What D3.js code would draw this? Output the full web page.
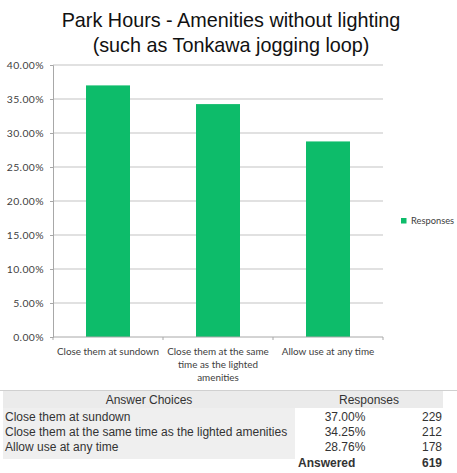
<!DOCTYPE html>
<html>
<head>
<meta charset="utf-8">
<script src="https://cdn.jsdelivr.net/npm/d3@7"></script>
<style>
  body { margin: 0; background: #fff; }
  svg { display: block; }
</style>
</head>
<body>
<svg id="chart"></svg>
<script>
// chart values
var categories = ["Close them at sundown", "Close them at the same time as the lighted amenities", "Allow use at any time"];
var percentages = [37.00, 34.25, 28.76];
var counts = [229, 212, 178];
var answered = 619;
var yTicks = [0, 5, 10, 15, 20, 25, 30, 35, 40];
var seriesName = "Responses";
var titleLines = ["Park Hours - Amenities without lighting", "(such as Tonkawa jogging loop)"];
var tableHeaders = ["Answer Choices", "Responses"];

var W = 457, H = 473;
var margin = {top: 65, left: 53, right: 74, bottom: 136};
var width = W - margin.left - margin.right,
    height = H - margin.top - margin.bottom;

var svg = d3.select("#chart").attr("width", W).attr("height", H);

var green = "#0dbc6a";
var labelFont = "Lato, 'Open Sans', sans-serif";
var tableFont = "'Liberation Sans', Arial, sans-serif";

// title
svg.append("g").selectAll("text")
  .data(titleLines)
  .enter().append("text")
  .attr("x", 231)
  .attr("y", function(d, i) { return 27 + i * 24.5; })
  .attr("text-anchor", "middle")
  .attr("font-family", tableFont)
  .attr("font-size", 19.8)
  .attr("fill", "#111")
  .text(function(d) { return d; });

var g = svg.append("g").attr("transform", "translate(" + margin.left + "," + margin.top + ")");

var x = d3.scaleBand().domain(categories).range([0, width]).paddingInner(0.6).paddingOuter(0.3);
var y = d3.scaleLinear().domain([0, 40]).range([height, 0]);

// gridlines
g.append("g").selectAll("line")
  .data(yTicks.filter(function(d) { return d > 0; }))
  .enter().append("line")
  .attr("x1", 0).attr("x2", width)
  .attr("y1", function(d) { return y(d); })
  .attr("y2", function(d) { return y(d); })
  .attr("stroke", "#c4c4c4")
  .attr("stroke-width", 1.2);

// y axis
var yAxis = g.append("g")
  .call(d3.axisLeft(y).tickValues(yTicks).tickSize(3).tickPadding(6)
    .tickFormat(function(d) { return d.toFixed(2) + "%"; }));
yAxis.selectAll("path, line").attr("stroke", "#a8a8a8");
yAxis.selectAll("text").attr("font-family", labelFont).attr("font-size", 10.4)
  .attr("letter-spacing", 0.4).attr("fill", "#404040");

// bars
g.append("g").selectAll("rect")
  .data(percentages)
  .enter().append("rect")
  .attr("x", function(d, i) { return x(categories[i]); })
  .attr("width", x.bandwidth())
  .attr("y", function(d) { return y(d); })
  .attr("height", function(d) { return height - y(d); })
  .attr("fill", green);

// x axis with ticks on band edges
var xAxis = g.append("g").attr("transform", "translate(0," + height + ")");
xAxis.append("line").attr("x1", 0).attr("x2", width).attr("stroke", "#a8a8a8");
xAxis.selectAll(".edge")
  .data(d3.range(categories.length + 1))
  .enter().append("line")
  .attr("class", "edge")
  .attr("x1", function(i) { return i * width / categories.length; })
  .attr("x2", function(i) { return i * width / categories.length; })
  .attr("y1", 0).attr("y2", 3)
  .attr("stroke", "#a8a8a8");

// wrapped category labels
xAxis.selectAll(".cat")
  .data(categories)
  .enter().append("text")
  .attr("class", "cat")
  .attr("x", function(d) { return x(d) + x.bandwidth() / 2; })
  .attr("y", 18)
  .attr("text-anchor", "middle")
  .attr("font-family", labelFont)
  .attr("font-size", 9.9)
  .attr("fill", "#404040")
  .each(function(d) {
    var text = d3.select(this), words = d.split(" "), line = [];
    var tspan = text.append("tspan").attr("x", text.attr("x")).attr("dy", 0);
    words.forEach(function(w) {
      line.push(w);
      tspan.text(line.join(" "));
      if (tspan.node().getComputedTextLength() > 112 && line.length > 1) {
        line.pop();
        tspan.text(line.join(" "));
        line = [w];
        tspan = text.append("tspan").attr("x", text.attr("x")).attr("dy", 13).text(w);
      }
    });
  });

// legend
var legend = svg.append("g").attr("transform", "translate(401,218)");
legend.append("rect").attr("width", 5.5).attr("height", 5.5).attr("fill", green);
legend.append("text").attr("x", 10).attr("y", 6)
  .attr("font-family", labelFont).attr("font-size", 9.3).attr("fill", "#404040")
  .text(seriesName);

// response table
var tbl = svg.append("g");
tbl.append("line").attr("x1", 0).attr("x2", W).attr("y1", 390.5).attr("y2", 390.5)
  .attr("stroke", "#d0d0d0");
tbl.append("rect").attr("x", 3).attr("y", 391).attr("width", 440).attr("height", 17).attr("fill", "#ebebeb");
tbl.append("rect").attr("x", 3).attr("y", 408).attr("width", 292).attr("height", 51).attr("fill", "#efefef");

var tsize = 12, tcolor = "#333";
tbl.append("text").attr("x", 149).attr("y", 404).attr("text-anchor", "middle")
  .attr("font-family", tableFont).attr("font-size", tsize).attr("fill", tcolor).text(tableHeaders[0]);
tbl.append("text").attr("x", 369).attr("y", 404).attr("text-anchor", "middle")
  .attr("font-family", tableFont).attr("font-size", tsize).attr("fill", tcolor).text(tableHeaders[1]);

var rowY = function(i) { return 421 + i * 15; };
var rows = tbl.selectAll(".row").data(categories).enter().append("g").attr("class", "row");
rows.append("text").attr("x", 5).attr("y", function(d, i) { return rowY(i); })
  .attr("font-family", tableFont).attr("font-size", tsize).attr("fill", tcolor)
  .text(function(d) { return d; });
rows.append("text").attr("x", 345).attr("y", function(d, i) { return rowY(i); })
  .attr("text-anchor", "middle")
  .attr("font-family", tableFont).attr("font-size", tsize).attr("fill", tcolor)
  .text(function(d, i) { return percentages[i].toFixed(2) + "%"; });
rows.append("text").attr("x", 442).attr("y", function(d, i) { return rowY(i); })
  .attr("text-anchor", "end")
  .attr("font-family", tableFont).attr("font-size", tsize).attr("fill", tcolor)
  .text(function(d, i) { return counts[i]; });

tbl.append("text").attr("x", 298).attr("y", rowY(3) + 1)
  .attr("font-family", tableFont).attr("font-size", tsize).attr("font-weight", "bold").attr("fill", tcolor)
  .text("Answered");
tbl.append("text").attr("x", 442).attr("y", rowY(3) + 1).attr("text-anchor", "end")
  .attr("font-family", tableFont).attr("font-size", tsize).attr("font-weight", "bold").attr("fill", tcolor)
  .text(answered);
</script>
</body>
</html>
